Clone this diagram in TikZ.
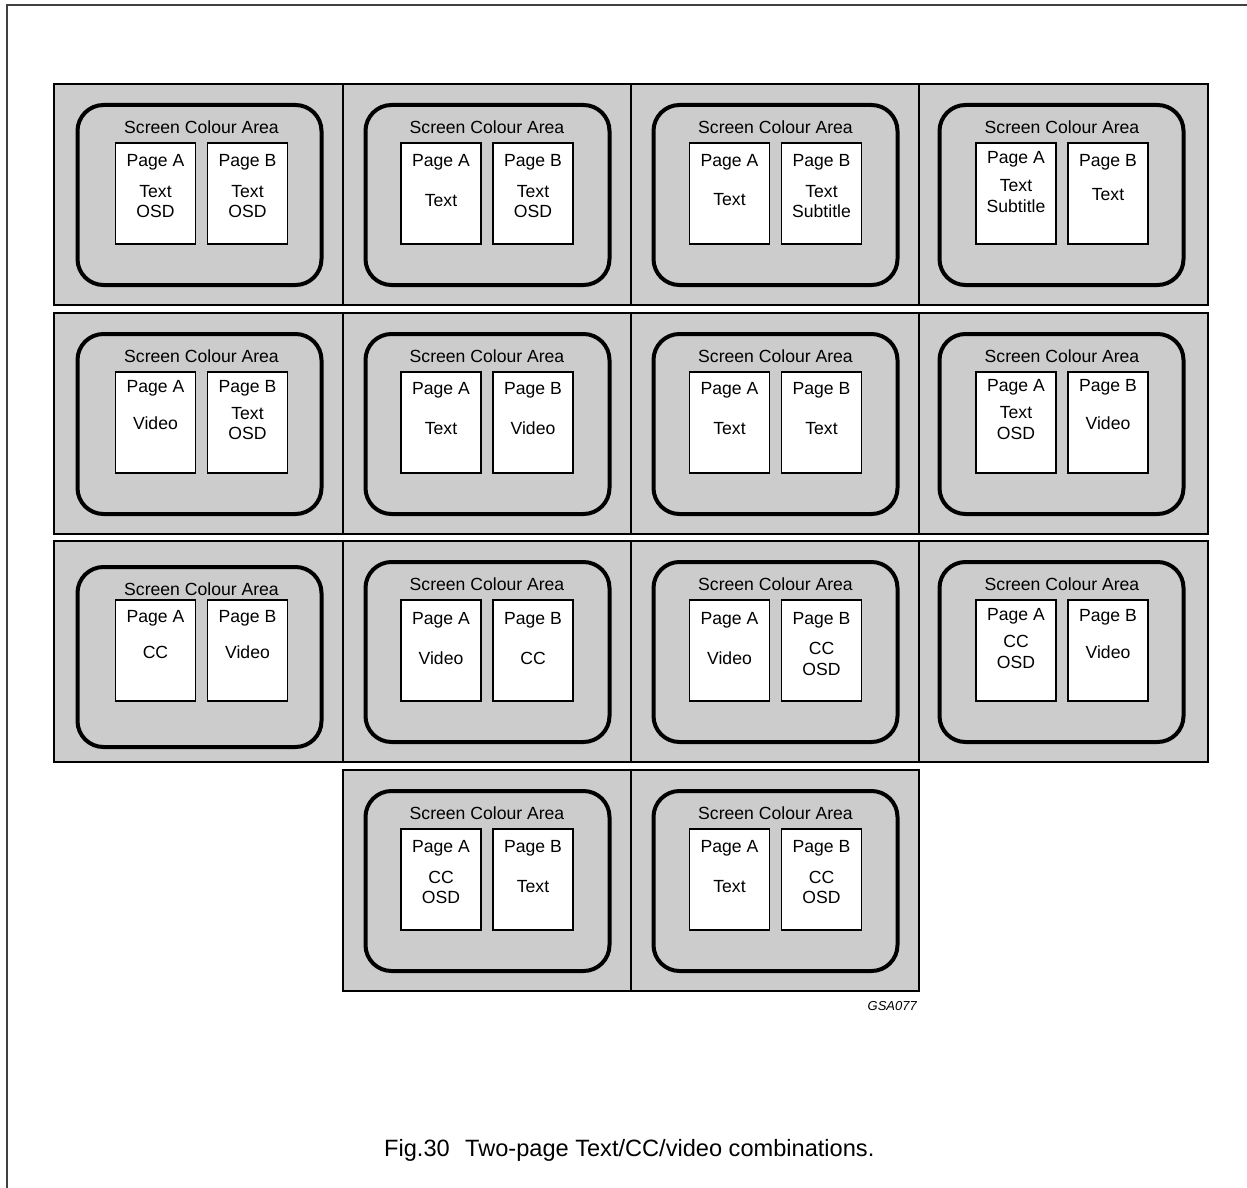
\documentclass[tikz,border=0pt]{standalone}
\usepackage{fontspec}
\setmainfont{Liberation Sans}
\definecolor{scrgray}{HTML}{CCCCCC}
\definecolor{framecol}{HTML}{404040}
\newcommand\fsz{\fontsize{17.6}{20}\selectfont}
\tikzset{
  cellfill/.style={fill=scrgray},
  cellline/.style={draw=black, line width=1.5pt},
  scrarea/.style={draw=black, line width=4pt, rounded corners=26pt},
  pagebox/.style={draw=black, fill=white, line width=1.8pt, minimum width=80pt, minimum height=101pt, inner sep=0pt},
  lbl/.style={font=\fsz, anchor=base, inner sep=0pt},
}
% #1 name, #2 left, #3 right, #4 top, #5 inner centre x, #6 page centre x, #7 extra shift of screen area
\newcommand\scrcell[7]{%
  \draw[scrarea] (#5-122,#4+21+#7) rectangle (#5+122,#4+201+#7);
  \node[lbl] (#1sca) at (#6,#4+49+#7) {Screen Colour Area};
  \node[pagebox] (#1pa) at (#6-46,#4+109.5) {};
  \node[pagebox] (#1pb) at (#6+46,#4+109.5) {};
}
% #1 name, #2 x, #3 y (baseline), #4 text
\newcommand\ptxt[4]{\node[lbl] (#1) at (#2,#3) {#4};}
\begin{document}
\begin{tikzpicture}[x=1pt,y=-1pt]
\useasboundingbox (0,0) rectangle (1247,1188);
% frame
\draw[framecol, line width=1.5pt] (7,1188) -- (7,5) -- (1247,5);
% cell backgrounds
\foreach \l/\r/\t in {54/343/84,343/631/84,631/919/84,919/1208/84,
                      54/343/313,343/631/313,631/919/313,919/1208/313,
                      54/343/541,343/631/541,631/919/541,919/1208/541,
                      343/631/770,631/919/770}{
  \fill[cellfill] (\l,\t) rectangle (\r,\t+221);
}
\foreach \l/\r/\t in {54/343/84,343/631/84,631/919/84,919/1208/84,
                      54/343/313,343/631/313,631/919/313,919/1208/313,
                      54/343/541,343/631/541,631/919/541,919/1208/541,
                      343/631/770,631/919/770}{
  \draw[cellline] (\l,\t) rectangle (\r,\t+221);
}
% ---------- row 1 ----------
\scrcell{a1}{54}{343}{84}{199.5}{201.5}{0}
\ptxt{a1la}{155.5}{166}{Page A}\ptxt{a1a1}{155.5}{197}{Text}\ptxt{a1a2}{155.5}{217}{OSD}
\ptxt{a1lb}{247.5}{166}{Page B}\ptxt{a1b1}{247.5}{197}{Text}\ptxt{a1b2}{247.5}{217}{OSD}
\scrcell{a2}{343}{631}{84}{487.5}{487}{0}
\ptxt{a2la}{441}{166}{Page A}\ptxt{a2a1}{441}{206}{Text}
\ptxt{a2lb}{533}{166}{Page B}\ptxt{a2b1}{533}{197}{Text}\ptxt{a2b2}{533}{217}{OSD}
\scrcell{a3}{631}{919}{84}{775.5}{775.5}{0}
\ptxt{a3la}{729.5}{166}{Page A}\ptxt{a3a1}{729.5}{205}{Text}
\ptxt{a3lb}{821.5}{166}{Page B}\ptxt{a3b1}{821.5}{197}{Text}\ptxt{a3b2}{821.5}{217}{Subtitle}
\scrcell{a4}{919}{1208}{84}{1061.5}{1062}{0}
\ptxt{a4la}{1016}{163}{Page A}\ptxt{a4a1}{1016}{191}{Text}\ptxt{a4a2}{1016}{212}{Subtitle}
\ptxt{a4lb}{1108}{166}{Page B}\ptxt{a4b1}{1108}{200}{Text}
% ---------- row 2 ----------
\scrcell{b1}{54}{343}{313}{199.5}{201.5}{0}
\ptxt{b1la}{155.5}{392}{Page A}\ptxt{b1a1}{155.5}{429}{Video}
\ptxt{b1lb}{247.5}{392}{Page B}\ptxt{b1b1}{247.5}{419}{Text}\ptxt{b1b2}{247.5}{439}{OSD}
\scrcell{b2}{343}{631}{313}{487.5}{487}{0}
\ptxt{b2la}{441}{394}{Page A}\ptxt{b2a1}{441}{434}{Text}
\ptxt{b2lb}{533}{394}{Page B}\ptxt{b2b1}{533}{434}{Video}
\scrcell{b3}{631}{919}{313}{775.5}{775.5}{0}
\ptxt{b3la}{729.5}{394}{Page A}\ptxt{b3a1}{729.5}{434}{Text}
\ptxt{b3lb}{821.5}{394}{Page B}\ptxt{b3b1}{821.5}{434}{Text}
\scrcell{b4}{919}{1208}{313}{1061.5}{1062}{0}
\ptxt{b4la}{1016}{391}{Page A}\ptxt{b4a1}{1016}{418}{Text}\ptxt{b4a2}{1016}{439}{OSD}
\ptxt{b4lb}{1108}{391}{Page B}\ptxt{b4b1}{1108}{429}{Video}
% ---------- row 3 ----------
\scrcell{c1}{54}{343}{541}{199.5}{201.5}{5}
\ptxt{c1la}{155.5}{622}{Page A}\ptxt{c1a1}{155.5}{658}{CC}
\ptxt{c1lb}{247.5}{622}{Page B}\ptxt{c1b1}{247.5}{658}{Video}
\scrcell{c2}{343}{631}{541}{487.5}{487}{0}
\ptxt{c2la}{441}{624}{Page A}\ptxt{c2a1}{441}{664}{Video}
\ptxt{c2lb}{533}{624}{Page B}\ptxt{c2b1}{533}{664}{CC}
\scrcell{c3}{631}{919}{541}{775.5}{775.5}{0}
\ptxt{c3la}{729.5}{624}{Page A}\ptxt{c3a1}{729.5}{664}{Video}
\ptxt{c3lb}{821.5}{624}{Page B}\ptxt{c3b1}{821.5}{654}{CC}\ptxt{c3b2}{821.5}{675}{OSD}
\scrcell{c4}{919}{1208}{541}{1061.5}{1062}{0}
\ptxt{c4la}{1016}{620}{Page A}\ptxt{c4a1}{1016}{647}{CC}\ptxt{c4a2}{1016}{668}{OSD}
\ptxt{c4lb}{1108}{621}{Page B}\ptxt{c4b1}{1108}{658}{Video}
% ---------- row 4 ----------
\scrcell{d2}{343}{631}{770}{487.5}{487}{0}
\ptxt{d2la}{441}{852}{Page A}\ptxt{d2a1}{441}{883}{CC}\ptxt{d2a2}{441}{903}{OSD}
\ptxt{d2lb}{533}{852}{Page B}\ptxt{d2b1}{533}{892}{Text}
\scrcell{d3}{631}{919}{770}{775.5}{775.5}{0}
\ptxt{d3la}{729.5}{852}{Page A}\ptxt{d3a1}{729.5}{892}{Text}
\ptxt{d3lb}{821.5}{852}{Page B}\ptxt{d3b1}{821.5}{883}{CC}\ptxt{d3b2}{821.5}{903}{OSD}
% ---------- labels ----------
\node[anchor=base east, inner sep=0pt, font=\fontsize{13}{15}\selectfont\itshape] (code) at (917,1010) {GSA077};
\node[anchor=base west, inner sep=0pt, font=\fontsize{23.6}{26}\selectfont] (caption) at (384,1156) {Fig.30\hspace{0.65em}Two-page Text/CC/video combinations.};
\end{tikzpicture}
\end{document}
